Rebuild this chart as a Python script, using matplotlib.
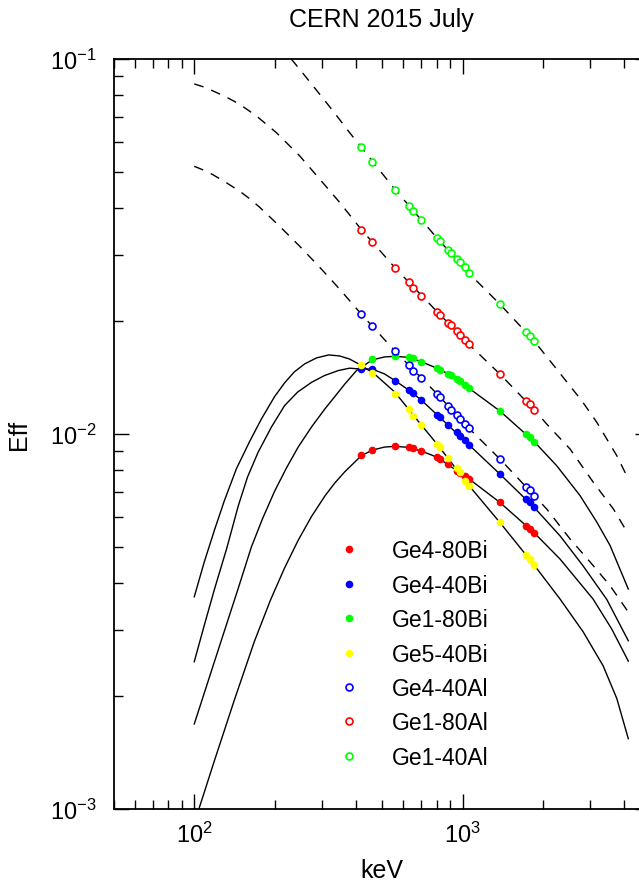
import numpy as np
import matplotlib
matplotlib.use("Agg")
import matplotlib.pyplot as plt

plt.rcParams["font.family"] = ["Liberation Sans", "DejaVu Sans"]
plt.rcParams["mathtext.fontset"] = "custom"
plt.rcParams["mathtext.rm"] = "Liberation Sans"
plt.rcParams["mathtext.it"] = "Liberation Sans:italic"

nan = np.nan

# measured peak energies (keV)
energies = [420, 461, 561, 630, 655, 702, 804, 823, 884, 904, 950, 977, 1020, 1058,
            1378, 1731, 1784, 1851]

# measured efficiencies, one list per detector / absorber setup
ge4_80bi = [0.00879, 0.00908, 0.00927, 0.00921, 0.00916, 0.00901, 0.00867, 0.00858, 0.00832, nan,
            0.00798, 0.00787, 0.00771, 0.00759, 0.00657, 0.00569, 0.00558, 0.00545]
ge4_40bi = [0.01490, 0.01490, 0.01387, 0.01310, 0.01286, 0.01232, 0.01125, 0.01110, 0.01057, nan,
            0.01010, 0.00990, 0.00966, 0.00935, 0.00782, 0.00671, 0.00657, 0.00637]
ge1_80bi = [nan, 0.01585, 0.01611, 0.01601, 0.01591, 0.01559, 0.01497, 0.01481, 0.01445, 0.01436,
            0.01402, 0.01387, 0.01355, 0.01324, 0.01152, 0.01000, 0.00982, 0.00954]
ge5_40bi = [0.01528, 0.01455, 0.01279, 0.01166, 0.01119, 0.01057, 0.00940, 0.00921, 0.00861, nan,
            0.00810, 0.00790, 0.00751, 0.00728, 0.00581, 0.00476, 0.00464, 0.00447]
ge4_40al = [0.02085, 0.01944, 0.01662, 0.01530, 0.01475, 0.01408, 0.01279, 0.01253, 0.01186, 0.01162,
            0.01125, 0.01096, 0.01063, 0.01035, 0.00858, 0.00724, 0.00709, 0.00685]
ge1_80al = [0.03506, 0.03245, 0.02772, 0.02538, 0.02455, 0.02338, 0.02119, 0.02080, 0.01973, 0.01953,
            0.01879, 0.01842, 0.01781, 0.01733, 0.01445, 0.01227, 0.01202, 0.01161]
ge1_40al = [0.0581, 0.0532, 0.0448, 0.0406, 0.0393, 0.0371, 0.0333, 0.0327, 0.0310, 0.0304,
            0.0293, 0.0288, 0.0279, 0.0268, 0.0222, 0.0187, 0.0182, 0.0177]

# fitted efficiency curves (solid: Bi, dashed: Al)
fit_ge5_40bi_e = [100, 109, 119, 129.4, 143.5, 160.5, 178, 199, 217, 236, 258, 286, 317, 348, 379, 417,
                  470, 559, 702, 804, 1058, 1378, 1851, 2310, 2815, 3343, 3761, 4150]
fit_ge5_40bi = [0.00368, 0.00456, 0.00555, 0.00663, 0.00807, 0.00952, 0.01097, 0.01256, 0.01368, 0.01464,
                0.01538, 0.01596, 0.01625, 0.01615, 0.01585, 0.01528, 0.01445, 0.01294, 0.01057, 0.00940,
                0.00728, 0.00581, 0.00447, 0.00363, 0.00297, 0.00241, 0.00197, 0.00154]
fit_ge4_40bi_e = [100, 109, 119, 132, 146, 158, 173, 194, 217, 243, 274, 306, 344, 379, 420, 461, 513,
                  561, 630, 702, 804, 1058, 1378, 1851, 2310, 2815, 3451, 4150]
fit_ge4_40bi = [0.00247, 0.00309, 0.00386, 0.00494, 0.00644, 0.00768, 0.00894, 0.01044, 0.01190, 0.01294,
                0.01374, 0.01432, 0.01476, 0.01498, 0.01490, 0.01490, 0.01445, 0.01387, 0.01310, 0.01232,
                0.01125, 0.00935, 0.00782, 0.00637, 0.00535, 0.00445, 0.00362, 0.00281]
fit_ge4_80bi_e = [100, 118.8, 141.5, 167.5, 192.2, 216.9, 244.1, 273.6, 306.7, 333.4, 364.3, 419.5, 461,
                  512.5, 561, 630, 702, 804, 1058, 1378, 1851, 2310, 3067, 3600, 4150]
fit_ge4_80bi = [0.000915, 0.001343, 0.001965, 0.002796, 0.003602, 0.004386, 0.005210, 0.006026, 0.006830,
                0.007388, 0.007934, 0.00875, 0.00906, 0.00923, 0.00927, 0.00921, 0.00901, 0.00867,
                0.00759, 0.00657, 0.00545, 0.00464, 0.00363, 0.00302, 0.00248]
fit_ge1_80bi_e = [100, 118.8, 145.6, 163.3, 179.5, 199.5, 220.6, 244.1, 273.6, 306.7, 333.4, 364.3, 402.9,
                  461, 512.5, 561, 630, 702, 804, 904, 1058, 1378, 1851, 2245, 2743, 3168, 3550, 4150]
fit_ge1_80bi = [0.001685, 0.002466, 0.003861, 0.004997, 0.005934, 0.007047, 0.008115, 0.009233, 0.010439,
                0.011659, 0.012556, 0.013594, 0.014774, 0.015761, 0.016054, 0.01611, 0.01601, 0.01559,
                0.01497, 0.01436, 0.01324, 0.01152, 0.00954, 0.00823, 0.00685, 0.00582, 0.00504, 0.00386]

fit_ge1_80al_e = [100, 108.1, 117, 130.5, 147, 170, 202, 247, 293, 348, 420, 561, 804, 1058, 1378, 1851,
                  2060, 2517, 3075, 3652, 4150]
fit_ge1_80al = [0.0858, 0.0843, 0.0823, 0.0794, 0.0759, 0.0706, 0.0637, 0.0552, 0.0479, 0.0415, 0.03506,
                0.02772, 0.02119, 0.01733, 0.01445, 0.01161, 0.01063, 0.00912, 0.00743, 0.00631, 0.00541]
fit_ge4_40al_e = [100, 108.1, 117, 130.5, 147.3, 160.5, 174.9, 207.8, 246.7, 293, 348, 420, 561, 804, 1058,
                  1378, 1851, 2060, 2517, 2989, 3550, 4150]
fit_ge4_40al = [0.05175, 0.05058, 0.04920, 0.04699, 0.04446, 0.04246, 0.04030, 0.03585, 0.03172, 0.02788,
                0.02436, 0.02085, 0.01662, 0.01279, 0.01035, 0.00858, 0.00685, 0.00631, 0.00525, 0.00456,
                0.00394, 0.00335]
fit_ge1_40al_e = [230, 269, 329, 379, 420, 561, 804, 1058, 1378, 1851, 2783, 3168, 3761, 4150]
fit_ge1_40al = [0.1000, 0.0871, 0.0727, 0.0637, 0.0581, 0.0448, 0.0333, 0.0268, 0.0222, 0.0177,
                0.01227, 0.01074, 0.00875, 0.00759]

RED, BLUE, GREEN, YELLOW = "#ff0000", "#0000ff", "#00ff00", "#ffff00"

fig = plt.figure(figsize=(6.39, 8.87), dpi=100)
ax = fig.add_axes([113.5 / 639, 1 - 810 / 887, (650 - 113.5) / 639, 750 / 887])

line_kw = dict(color="black", lw=1.0, zorder=2)
for e, v in [(fit_ge5_40bi_e, fit_ge5_40bi), (fit_ge4_40bi_e, fit_ge4_40bi),
             (fit_ge4_80bi_e, fit_ge4_80bi), (fit_ge1_80bi_e, fit_ge1_80bi)]:
    ax.plot(e, v, **line_kw)
for e, v in [(fit_ge1_80al_e, fit_ge1_80al), (fit_ge4_40al_e, fit_ge4_40al),
             (fit_ge1_40al_e, fit_ge1_40al)]:
    ax.plot(e, v, dashes=(7, 6), **line_kw)

filled = [(ge4_80bi, RED, "Ge4-80Bi"), (ge4_40bi, BLUE, "Ge4-40Bi"),
          (ge1_80bi, GREEN, "Ge1-80Bi"), (ge5_40bi, YELLOW, "Ge5-40Bi")]
hollow = [(ge4_40al, BLUE, "Ge4-40Al"), (ge1_80al, RED, "Ge1-80Al"),
          (ge1_40al, GREEN, "Ge1-40Al")]
for vals, c, lab in filled:
    ax.plot(energies, vals, "o", ms=5.5, mfc=c, mec=c, mew=0, label=lab, zorder=3)
for vals, c, lab in hollow:
    ax.plot(energies, vals, "o", ms=5.0, mfc="white", mec=c, mew=1.2, label=lab, zorder=3)

ax.set_xscale("log")
ax.set_yscale("log")
ax.set_xlim(50, 5000)
ax.set_ylim(1e-3, 1e-1)

for s in ax.spines.values():
    s.set_linewidth(1.3)
ax.tick_params(which="both", direction="in", top=True, right=True, width=1.0, labelsize=17)
ax.tick_params(which="major", length=11)
ax.tick_params(axis="x", which="major", pad=9)
ax.tick_params(axis="y", which="major", pad=12)
ax.tick_params(which="minor", length=6.5)

ax.set_title("CERN 2015 July", fontsize=18, pad=24)
ax.set_xlabel("keV", fontsize=18, labelpad=8)
ax.set_ylabel("Eff", fontsize=18, labelpad=14)

ax.legend(loc="upper left", bbox_to_anchor=(0.39, 0.372), frameon=False, fontsize=16.5,
          handlelength=1.5, handletextpad=1.1, labelspacing=0.5, borderaxespad=0)

fig.savefig("out.png", dpi=100)
